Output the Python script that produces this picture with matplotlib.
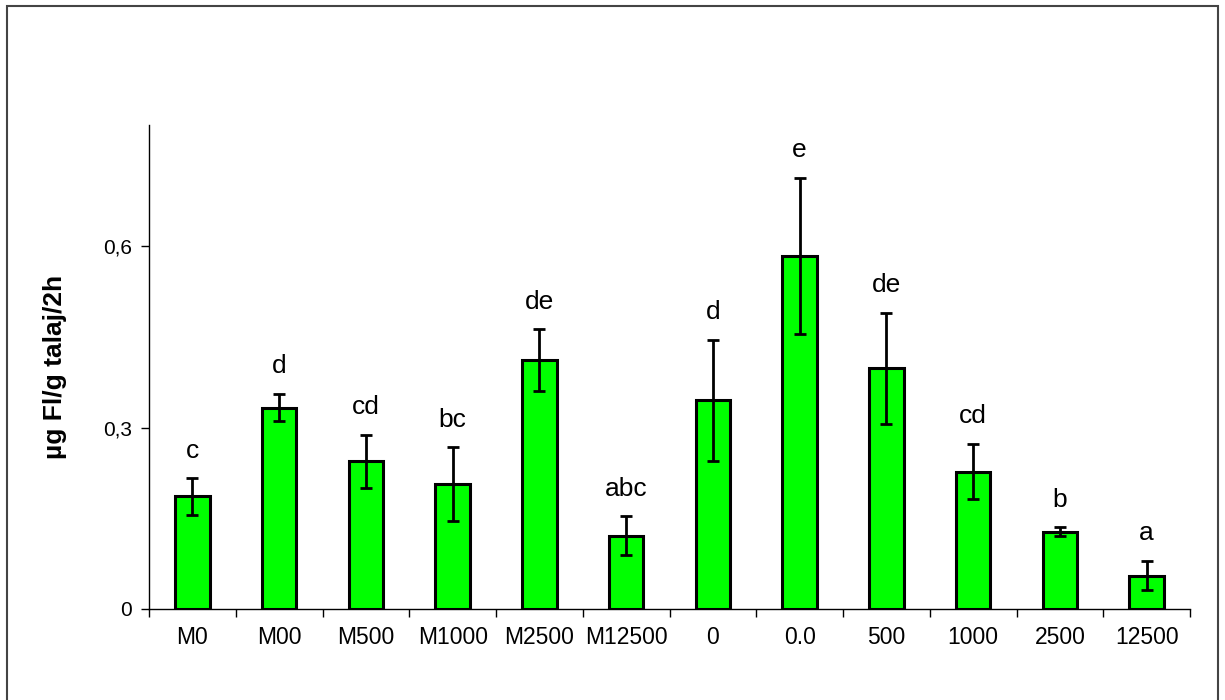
import matplotlib
matplotlib.use("Agg")
import matplotlib.pyplot as plt
from matplotlib.patches import Rectangle
from matplotlib.ticker import FixedLocator, FuncFormatter
import numpy as np

plt.rcParams["font.family"] = ["Liberation Sans", "DejaVu Sans"]

categories = ["M0", "M00", "M500", "M1000", "M2500", "M12500",
              "0", "0.0", "500", "1000", "2500", "12500"]
means = [0.186, 0.333, 0.244, 0.206, 0.411, 0.121,
         0.345, 0.583, 0.398, 0.227, 0.128, 0.055]
errors = [0.030, 0.022, 0.044, 0.061, 0.051, 0.032,
          0.100, 0.129, 0.092, 0.046, 0.007, 0.024]
letters = ["c", "d", "cd", "bc", "de", "abc",
           "d", "e", "de", "cd", "b", "a"]

fig = plt.figure(figsize=(12.25, 7), dpi=100)
ax = fig.add_axes([149 / 1225, 91 / 700, 1041 / 1225, 484 / 700])

x = np.arange(len(categories))
ax.bar(x, means, width=0.4, color="#00ff00", edgecolor="black", linewidth=2.2, zorder=2)
ax.errorbar(x, means, yerr=errors, fmt="none", ecolor="black",
            elinewidth=2, capsize=4.5, capthick=2, zorder=3)

# significance letters above the error bars
for xi, m, e, lab in zip(x, means, errors, letters):
    ax.annotate(lab, (xi, m + e), xytext=(0, 20), textcoords="offset points",
                ha="center", va="center", fontsize=19)

ax.set_xlim(-0.5, len(categories) - 0.5)
ax.set_ylim(0, 0.8)
ax.yaxis.set_major_locator(FixedLocator([0, 0.3, 0.6]))
ax.yaxis.set_major_formatter(FuncFormatter(lambda v, p: "0" if v == 0 else f"{v:.1f}".replace(".", ",")))

# ticks between categories, labels centred under bars
ax.set_xticks(np.arange(len(categories) + 1) - 0.5)
ax.set_xticklabels([])
ax.set_xticks(x, minor=True)
ax.set_xticklabels(categories, minor=True, fontsize=16.5)
ax.tick_params(axis="x", which="major", direction="out", length=6, width=1)
ax.tick_params(axis="x", which="minor", length=0, pad=12)
ax.tick_params(axis="y", direction="out", length=6, width=1, labelsize=15, pad=6)

for s in ["top", "right"]:
    ax.spines[s].set_visible(False)
ax.spines["left"].set_linewidth(1)
ax.spines["bottom"].set_linewidth(1)

ax.set_ylabel("µg Fl/g talaj/2h", fontsize=19, fontweight="bold", labelpad=26)

fig.patches.append(Rectangle((7 / 1225, -10 / 700), 1211 / 1225, 704 / 700,
                             transform=fig.transFigure, fill=False,
                             edgecolor="#444444", linewidth=1.5))

fig.savefig("out.png", dpi=100)
